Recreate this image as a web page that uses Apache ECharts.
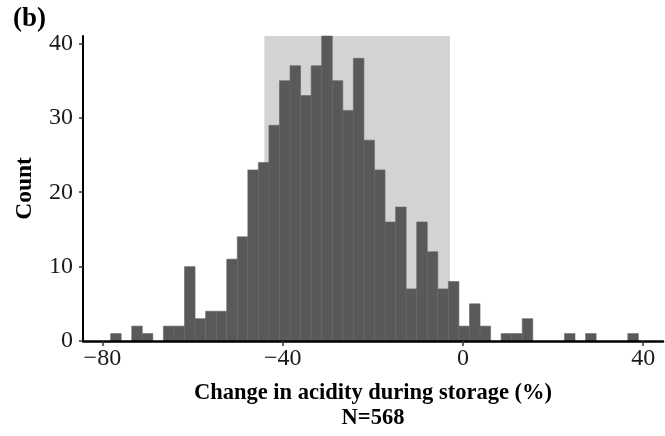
<!DOCTYPE html>
<html>
<head>
<meta charset="utf-8">
<script src="https://cdn.jsdelivr.net/npm/echarts@6/dist/echarts.min.js"></script>
<style>html,body{margin:0;padding:0;background:#fff}#c{width:665px;height:436px}</style>
</head>
<body>
<div id="c"></div>
<script>
// Histogram data
const binStart = -78.17;   // left edge of first bin (%)
const binWidth = 2.342;    // bin width (%)
const counts = [1,0,2,1,0,2,2,10,3,4,4,11,14,23,24,29,
                35,37,33,37,41,35,31,38,27,23,16,18,7,16,12,7,8,
                2,5,2,0,1,1,3,0,0,0,1,0,1,0,0,0,1];
const shadeRange = [-44.05, -2.89];
const xTicks = [-80, -40, 0, 40];
const yTicks = [0, 10, 20, 30, 40];
const xTitle = 'Change in acidity during storage (%)';
const nLabel = 'N=568';
const panelLabel = '(b)';

const yMax = Math.max(...counts);
const histData = counts.map((c, i) => [binStart + i * binWidth, binStart + (i + 1) * binWidth, c]);

const serif = '"Liberation Serif","Times New Roman",serif';
const chart = echarts.init(document.getElementById('c'), null, {renderer: 'canvas'});
chart.setOption({
  animation: false,
  title: {text: panelLabel, left: 8, top: 1, textStyle: {fontFamily: serif, fontWeight: 'bold', fontSize: 27, color: '#000'}},
  grid: {left: 83, right: 2, top: 36, bottom: 95},
  xAxis: {
    type: 'value', min: -84.3, max: 44.4, interval: 40, z: 10, position: 'bottom',
    splitLine: {show: false},
    axisLine: {show: true, onZero: false, lineStyle: {color: '#000', width: 2.5}},
    axisTick: {show: true, length: 5, lineStyle: {color: '#333', width: 1.5},
      customValues: xTicks},
    axisLabel: {fontFamily: serif, fontSize: 24, color: '#1a1a1a', margin: 6,
      customValues: xTicks,
      formatter: v => (v < 0 ? '\u2212' + Math.abs(v) : String(v))},
    name: xTitle + '\n' + nLabel,
    nameLocation: 'middle', nameGap: 40,
    nameTextStyle: {fontFamily: serif, fontWeight: 'bold', fontSize: 22.5, color: '#000', lineHeight: 25, align: 'center', verticalAlign: 'top'}
  },
  yAxis: {
    type: 'value', min: 0, max: yMax, interval: 10, z: 10,
    splitLine: {show: false},
    axisLine: {show: true, onZero: false, lineStyle: {color: '#000', width: 2}},
    axisTick: {show: true, length: 4, lineStyle: {color: '#333', width: 1.5}, customValues: yTicks},
    axisLabel: {fontFamily: serif, fontSize: 24, color: '#1a1a1a', margin: 10, customValues: yTicks},
    name: 'Count', nameLocation: 'middle', nameGap: 46, nameRotate: 90,
    nameTextStyle: {fontFamily: serif, fontWeight: 'bold', fontSize: 23.5, color: '#000'}
  },
  series: [
    {
      type: 'custom', z: 1, silent: true,
      data: [[shadeRange[0], shadeRange[1], yMax]],
      renderItem: (params, api) => {
        const p0 = api.coord([api.value(0), api.value(2)]);
        const p1 = api.coord([api.value(1), 0]);
        return {type: 'rect', shape: {x: p0[0], y: p0[1], width: p1[0] - p0[0], height: p1[1] - p0[1]},
          style: {fill: '#d3d3d3'}};
      }
    },
    {
      type: 'custom', z: 2, silent: true,
      data: histData,
      renderItem: (params, api) => {
        const c = api.value(2);
        if (!c) return null;
        const p0 = api.coord([api.value(0), c]);
        const p1 = api.coord([api.value(1), 0]);
        return {type: 'rect', shape: {x: p0[0], y: p0[1], width: p1[0] - p0[0], height: p1[1] - p0[1]},
          style: {fill: '#595959', stroke: '#666666', lineWidth: 0.6}};
      }
    }
  ]
});
</script>
</body>
</html>
